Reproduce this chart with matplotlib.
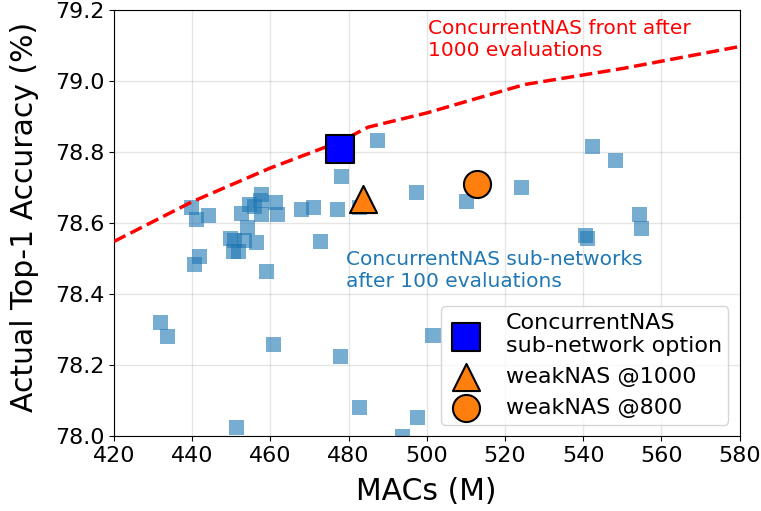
import matplotlib
matplotlib.use("Agg")
import matplotlib.pyplot as plt
import numpy as np

# sub-networks after 100 evaluations (MACs in M, top-1 accuracy in %)
sub_macs = [487.4, 478.3, 497.4, 439.7, 441.2, 444.2, 441.8, 440.6, 457.8, 457.4,
            452.7, 454.7, 456.0, 457.7, 461.3, 461.9, 454.1, 449.7, 450.8, 453.4,
            456.5, 450.6, 451.9, 459.1, 468.0, 471.0, 477.1, 472.8, 482.8, 510.2,
            524.2, 542.4, 548.4, 554.4, 554.9, 540.6, 541.1, 432.0, 433.8, 460.9,
            477.9, 482.8, 497.7, 451.3, 493.9, 501.6]
sub_acc = [78.832, 78.730, 78.685, 78.644, 78.610, 78.621, 78.505, 78.483, 78.679, 78.663,
           78.627, 78.651, 78.646, 78.623, 78.658, 78.624, 78.588, 78.557, 78.550, 78.552,
           78.546, 78.519, 78.519, 78.463, 78.639, 78.643, 78.639, 78.547, 78.644, 78.660,
           78.699, 78.815, 78.777, 78.623, 78.585, 78.564, 78.557, 78.321, 78.280, 78.259,
           78.225, 78.079, 78.053, 78.024, 77.998, 78.282]

# front after 1000 evaluations
front_macs = [420, 440, 460, 478, 485, 500, 525, 550, 580]
front_acc = [78.548, 78.660, 78.755, 78.830, 78.870, 78.910, 78.990, 79.035, 79.097]

option_macs, option_acc = 477.9, 78.809
weak1000_macs, weak1000_acc = 483.8, 78.668
weak800_macs, weak800_acc = 512.9, 78.709

fig = plt.figure(figsize=(7.61, 5.11), dpi=100)
ax = fig.add_axes([114 / 761, 1 - 436 / 511, 625.5 / 761, 426 / 511])

ax.scatter(sub_macs, sub_acc, marker="s", s=117, color="tab:blue", alpha=0.6,
           edgecolors="none", zorder=2)
ax.plot(front_macs, front_acc, "--", color="red", linewidth=2.5, zorder=3)

ax.scatter([option_macs], [option_acc], marker="s", s=400, color="blue",
           edgecolors="black", linewidths=1.5, zorder=4,
           label="ConcurrentNAS\nsub-network option")
ax.scatter([weak1000_macs], [weak1000_acc], marker="^", s=380, color="tab:orange",
           edgecolors="black", linewidths=1.5, zorder=4, label="weakNAS @1000")
ax.scatter([weak800_macs], [weak800_acc], marker="o", s=380, color="tab:orange",
           edgecolors="black", linewidths=1.5, zorder=4, label="weakNAS @800")

ax.text(500.3, 79.176, "ConcurrentNAS front after\n1000 evaluations", color="red",
        fontsize=14.5, va="top", ha="left")
ax.text(479.3, 78.524, "ConcurrentNAS sub-networks\nafter 100 evaluations",
        color="tab:blue", fontsize=14.5, va="top", ha="left")

ax.set_xlim(420, 580)
ax.set_ylim(78.0, 79.2)
ax.set_xticks(np.arange(420, 581, 20))
ax.set_yticks(np.arange(78.0, 79.21, 0.2))
ax.set_yticklabels(["%.1f" % v for v in np.arange(78.0, 79.21, 0.2)])
ax.tick_params(labelsize=16)
ax.grid(True, color="grey", alpha=0.2, linewidth=1)
ax.set_axisbelow(True)
ax.set_xlabel("MACs (M)", fontsize=21.5, labelpad=8)
ax.set_ylabel("Actual Top-1 Accuracy (%)", fontsize=21.5)
ax.yaxis.set_label_coords(-0.12, 0.514)

ax.legend(loc="lower right", fontsize=16, handletextpad=1.0, labelspacing=0.5,
          borderpad=0.3, handlelength=1.6)

fig.savefig("out.png", dpi=100)
